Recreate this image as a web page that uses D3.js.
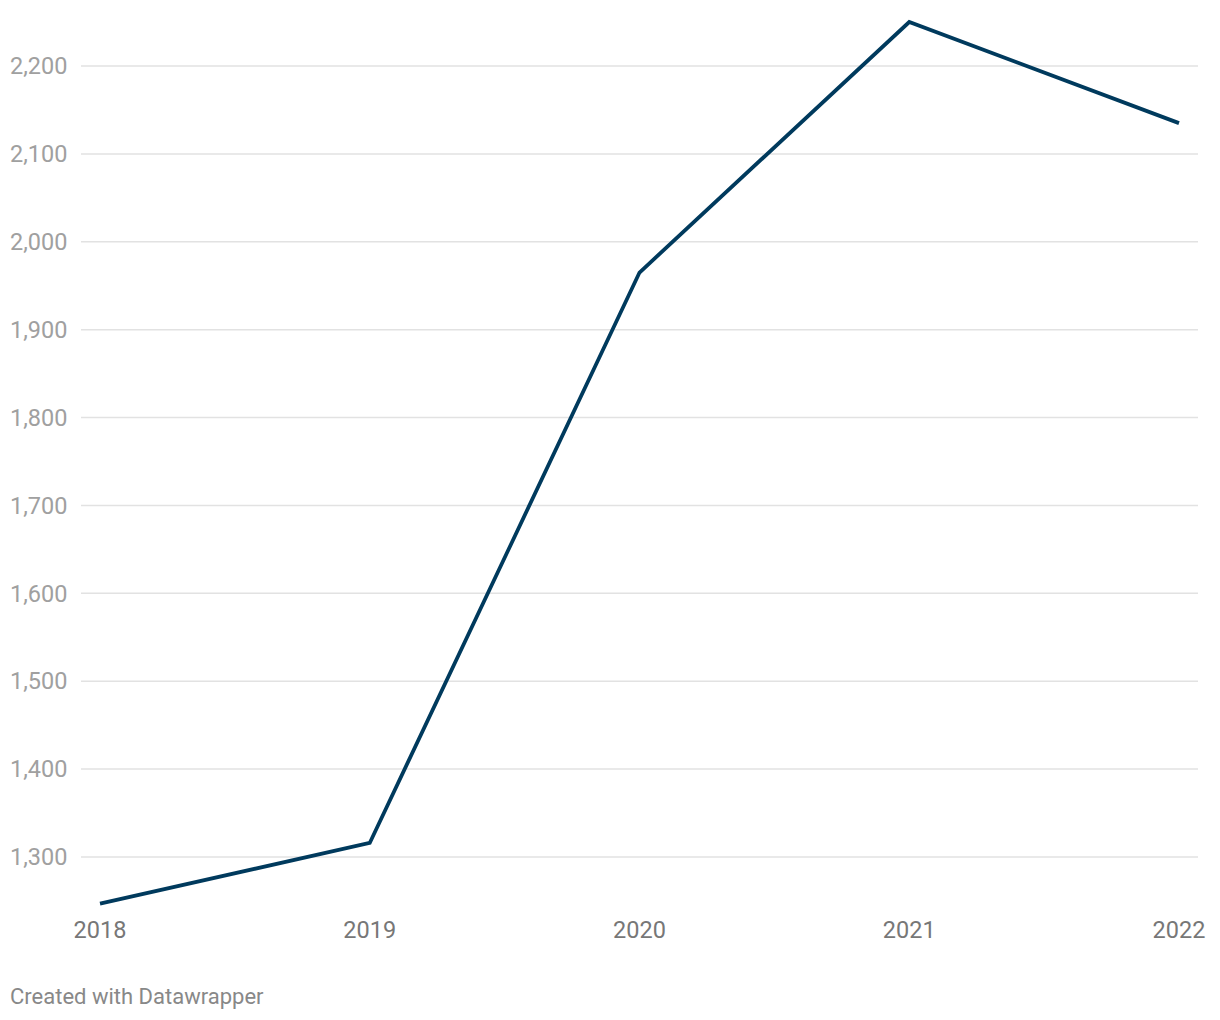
<!DOCTYPE html>
<html><head><meta charset="utf-8">
<script src="https://cdn.jsdelivr.net/npm/d3@7"></script>
<style>
body{margin:0;background:#fff;font-family:Roboto,"Noto Sans",sans-serif;}
</style></head>
<body>
<svg id="chart" width="1220" height="1020"></svg>
<script>
const years = ["2018","2019","2020","2021","2022"];
const values = [1247, 1316, 1965, 2250, 2135];
const yTicks = [1300,1400,1500,1600,1700,1800,1900,2000,2100,2200];

const svg = d3.select("#chart");
const x = d3.scalePoint().domain(years).range([100,1179]);
const y = d3.scaleLinear().domain([1300,2200]).range([857,66]);
const fmt = d3.format(",");

const grid = svg.append("g");
grid.selectAll("line").data(yTicks).join("line")
  .attr("x1",81).attr("x2",1198)
  .attr("y1",d=>y(d)).attr("y2",d=>y(d))
  .attr("stroke","#e2e2e2").attr("stroke-width",1.5);
grid.selectAll("text").data(yTicks).join("text")
  .attr("x",10).attr("y",d=>y(d)).attr("dy","0.35em")
  .attr("font-size",23.5).attr("fill","#a0a0a0")
  .text(d=>fmt(d));

svg.append("g").selectAll("text").data(years).join("text")
  .attr("x",d=>x(d)).attr("y",938).attr("text-anchor","middle")
  .attr("font-size",23.5).attr("fill","#777")
  .text(d=>d);

const line = d3.line().x((d,i)=>x(years[i])).y(d=>y(d));
svg.append("path").datum(values).attr("d",line)
  .attr("fill","none").attr("stroke","#003a5d").attr("stroke-width",3.8)
  .attr("stroke-linejoin","miter");

svg.append("text").attr("x",10).attr("y",1004)
  .attr("font-size",22).attr("fill","#888")
  .text("Created with Datawrapper");
</script>
</body></html>
